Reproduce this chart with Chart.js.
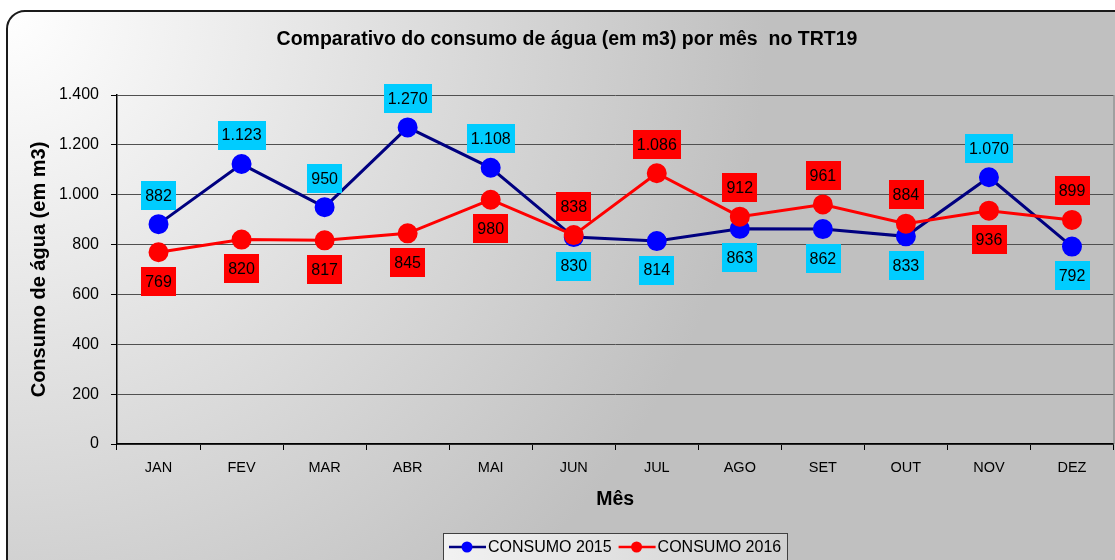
<!DOCTYPE html>
<html>
<head>
<meta charset="utf-8">
<script src="https://cdn.jsdelivr.net/npm/chart.js@4.4.1/dist/chart.umd.min.js"></script>
<style>
    body { margin: 0; background: #fff; overflow: hidden; width: 1115px; height: 560px; }
    canvas { display: block; }
</style>
</head>
<body>
<canvas id="grafico" width="1125" height="560"></canvas>
<script>
// Dados do gráfico
const meses = ['JAN', 'FEV', 'MAR', 'ABR', 'MAI', 'JUN', 'JUL', 'AGO', 'SET', 'OUT', 'NOV', 'DEZ'];
const consumo2015 = [882, 1123, 950, 1270, 1108, 830, 814, 863, 862, 833, 1070, 792];
const consumo2016 = [769, 820, 817, 845, 980, 838, 1086, 912, 961, 884, 936, 899];
// posição do rótulo de cada ponto (acima / abaixo)
const posRotulo2015 = ['top', 'top', 'top', 'top', 'top', 'bottom', 'bottom', 'bottom', 'bottom', 'bottom', 'top', 'bottom'];
const posRotulo2016 = ['bottom', 'bottom', 'bottom', 'bottom', 'bottom', 'top', 'top', 'top', 'top', 'top', 'bottom', 'top'];

const FONTE = 'Arial, "Liberation Sans", sans-serif';

// Formata número no padrão brasileiro (1.400)
function formatar(v) {
    return String(v).replace(/\B(?=(\d{3})+(?!\d))/g, '.');
}

// Fundo com borda arredondada, título e legenda
const fundoPlugin = {
    id: 'fundo',
    beforeDraw(chart) {
        const ctx = chart.ctx;
        ctx.save();
        const grad = ctx.createRadialGradient(7, 11, 0, 7, 11, 760);
        grad.addColorStop(0, '#ffffff');
        grad.addColorStop(1, '#c0c0c0');
        ctx.beginPath();
        ctx.roundRect(7, 11, 1140, 600, 18);
        ctx.fillStyle = grad;
        ctx.fill();
        ctx.lineWidth = 2;
        ctx.strokeStyle = '#1a1a1a';
        ctx.stroke();

        // título
        ctx.fillStyle = '#000';
        ctx.font = 'bold 19.5px ' + FONTE;
        ctx.textAlign = 'center';
        ctx.textBaseline = 'middle';
        ctx.fillText('Comparativo do consumo de água (em m3) por mês  no TRT19', 567, 40);
        ctx.restore();
    },
    afterDraw(chart) {
        const ctx = chart.ctx;
        const area = chart.chartArea;
        ctx.save();
        // borda direita da área do gráfico
        ctx.strokeStyle = '#808080';
        ctx.lineWidth = 1;
        ctx.beginPath();
        ctx.moveTo(area.right + 0.5, area.top);
        ctx.lineTo(area.right + 0.5, area.bottom);
        ctx.stroke();

        // legenda
        const x0 = 443, y0 = 533, w = 344, h = 32;
        const g = ctx.createLinearGradient(x0, y0, x0 + w, y0 + h);
        g.addColorStop(0, '#f2f2f2');
        g.addColorStop(1, '#d0d0d0');
        ctx.fillStyle = g;
        ctx.fillRect(x0, y0, w, h);
        ctx.strokeStyle = '#404040';
        ctx.lineWidth = 1;
        ctx.strokeRect(x0 + 0.5, y0 + 0.5, w, h);

        ctx.font = '16px ' + FONTE;
        ctx.textBaseline = 'middle';
        ctx.textAlign = 'left';
        let x = x0 + 6;
        const cy = y0 + 14;
        chart.data.datasets.forEach(ds => {
            ctx.strokeStyle = ds.borderColor;
            ctx.lineWidth = 2.5;
            ctx.beginPath();
            ctx.moveTo(x, cy);
            ctx.lineTo(x + 37, cy);
            ctx.stroke();
            ctx.fillStyle = ds.pointBackgroundColor;
            ctx.beginPath();
            ctx.arc(x + 18, cy, 5.5, 0, Math.PI * 2);
            ctx.fill();
            ctx.fillStyle = '#000';
            ctx.fillText(ds.label, x + 39, cy + 1);
            x += 39 + ctx.measureText(ds.label).width + 7;
        });
        ctx.restore();
    }
};

// Rótulos de dados em caixas coloridas
const rotulosPlugin = {
    id: 'rotulos',
    afterDatasetsDraw(chart) {
        const ctx = chart.ctx;
        ctx.save();
        ctx.font = '16px ' + FONTE;
        ctx.textAlign = 'center';
        ctx.textBaseline = 'middle';
        chart.data.datasets.forEach((ds, i) => {
            const meta = chart.getDatasetMeta(i);
            meta.data.forEach((pt, j) => {
                const texto = formatar(ds.data[j]);
                const tw = ctx.measureText(texto).width;
                const bw = tw + 8, bh = 29;
                const cy = ds.posRotulo[j] === 'top' ? pt.y - 29 : pt.y + 29;
                ctx.fillStyle = ds.corRotulo;
                ctx.fillRect(Math.round(pt.x - bw / 2), Math.round(cy - bh / 2), Math.round(bw), bh);
                ctx.fillStyle = '#000';
                ctx.fillText(texto, pt.x, cy + 1);
            });
        });
        ctx.restore();
    }
};

const ctx = document.getElementById('grafico');

new Chart(ctx, {
    type: 'line',
    data: {
        labels: meses,
        datasets: [
            {
                label: 'CONSUMO 2015',
                data: consumo2015,
                borderColor: '#000080',
                backgroundColor: '#0000ff',
                pointBackgroundColor: '#0000ff',
                pointBorderColor: '#0000ff',
                pointRadius: 8.5,
                borderWidth: 3,
                order: 2,
                corRotulo: '#00ccff',
                posRotulo: posRotulo2015
            },
            {
                label: 'CONSUMO 2016',
                data: consumo2016,
                borderColor: '#ff0000',
                backgroundColor: '#ff0000',
                pointBackgroundColor: '#ff0000',
                pointBorderColor: '#ff0000',
                pointRadius: 8.5,
                borderWidth: 3,
                order: 1,
                corRotulo: '#ff0000',
                posRotulo: posRotulo2016
            }
        ]
    },
    options: {
        responsive: false,
        animation: false,
        layout: {
            padding: { left: 23, top: 95, right: 2, bottom: 45 }
        },
        plugins: {
            legend: { display: false },
            tooltip: { enabled: false }
        },
        scales: {
            x: {
                offset: true,
                afterFit(scale) { scale.height = 71; },
                grid: {
                    offset: true,
                    drawOnChartArea: false,
                    drawTicks: true,
                    tickLength: 6,
                    tickColor: '#000'
                },
                border: { color: '#000', width: 1.5 },
                ticks: {
                    color: '#000',
                    font: { family: FONTE, size: 14.5 },
                    padding: 9
                },
                title: {
                    display: true,
                    text: 'Mês',
                    color: '#000',
                    font: { family: FONTE, size: 19.5, weight: 'bold' }
                }
            },
            y: {
                min: 0,
                max: 1400,
                afterFit(scale) { scale.width = 94; },
                grid: {
                    color: '#505050',
                    lineWidth: 1,
                    borderDash: [7, 5],
                    tickLength: 6,
                    tickColor: '#000',
                    tickBorderDash: []
                },
                border: { color: '#000', width: 1.5 },
                ticks: {
                    stepSize: 200,
                    color: '#000',
                    font: { family: FONTE, size: 16 },
                    padding: 12,
                    callback: v => formatar(v)
                },
                title: {
                    display: true,
                    text: 'Consumo de água (em m3)',
                    color: '#000',
                    font: { family: FONTE, size: 20, weight: 'bold' }
                }
            }
        }
    },
    plugins: [fundoPlugin, rotulosPlugin]
});
</script>
</body>
</html>
